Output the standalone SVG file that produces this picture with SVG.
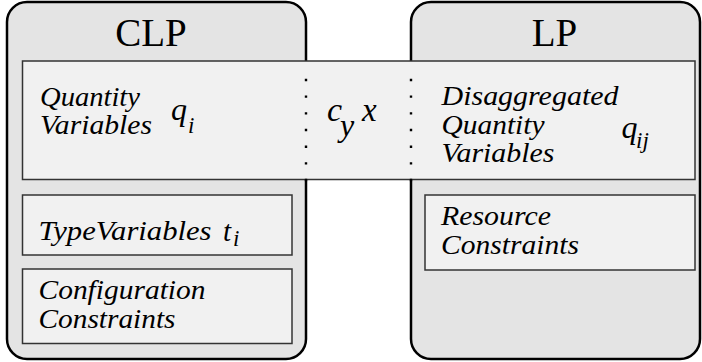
<svg xmlns="http://www.w3.org/2000/svg" width="702" height="362" viewBox="0 0 702 362">
  <style>
    .outer { fill: #e4e4e4; stroke: #000; stroke-width: 2.5; }
    .inner { fill: #f1f1f1; stroke: #333; stroke-width: 1.5; }
    .title { font-family: "Liberation Serif", "Times New Roman", serif; font-size: 39px; fill: #000; text-anchor: middle; }
    .lbl { font-family: "Liberation Serif", "Times New Roman", serif; font-style: italic; font-size: 27px; fill: #000; }
    .math { font-family: "Liberation Serif", "Times New Roman", serif; font-style: italic; fill: #000; }
    .dots { stroke: #000; stroke-width: 2.4; stroke-dasharray: 2.4 14.27; fill: none; }
  </style>

  <!-- Solver containers -->
  <g id="clp">
    <rect class="outer" x="7" y="2" width="299" height="357" rx="20" ry="20"/>
    <text class="title" x="151" y="46">CLP</text>
  </g>
  <g id="lp">
    <rect class="outer" x="411" y="2" width="289" height="357" rx="20" ry="20"/>
    <text class="title" x="554.5" y="46">LP</text>
  </g>

  <!-- Shared variable band spanning both solvers -->
  <g id="shared-variables">
    <rect class="inner" x="22.5" y="61" width="672.5" height="118.5"/>
    <text class="lbl" x="40" y="106" textLength="100" lengthAdjust="spacingAndGlyphs">Quantity</text>
    <text class="lbl" x="40" y="133.5" textLength="112" lengthAdjust="spacingAndGlyphs">Variables</text>
    <text class="math" x="171" y="120" font-size="32">q</text>
    <text class="math" x="188" y="133" font-size="23">i</text>

    <text class="math" x="327" y="121" font-size="34">c</text>
    <text class="math" x="340" y="136" font-size="32">y</text>
    <text class="math" x="362" y="121" font-size="33">x</text>

    <text class="lbl" x="441.5" y="105" textLength="177" lengthAdjust="spacingAndGlyphs">Disaggregated</text>
    <text class="lbl" x="441.5" y="133.5" textLength="103" lengthAdjust="spacingAndGlyphs">Quantity</text>
    <text class="lbl" x="441.5" y="161.5" textLength="113" lengthAdjust="spacingAndGlyphs">Variables</text>
    <text class="math" x="621.5" y="138" font-size="32">q</text>
    <text class="math" x="636" y="148" font-size="23">ij</text>
  </g>

  <!-- Boundary continuation through the shared band -->
  <g id="connectors">
    <line class="dots" x1="306" y1="78.8" x2="306" y2="182"/>
    <line class="dots" x1="411" y1="78.8" x2="411" y2="182"/>
  </g>

  <g id="type-variables">
    <rect class="inner" x="22.5" y="195" width="269.5" height="60"/>
    <text class="lbl" x="38.5" y="239.5" textLength="173" lengthAdjust="spacingAndGlyphs">TypeVariables</text>
    <text class="math" x="223" y="241" font-size="29">t</text>
    <text class="math" x="233" y="246" font-size="23">i</text>
  </g>

  <g id="configuration-constraints">
    <rect class="inner" x="22.5" y="269" width="269.5" height="74.5"/>
    <text class="lbl" x="38.5" y="298.5" textLength="167" lengthAdjust="spacingAndGlyphs">Configuration</text>
    <text class="lbl" x="38.5" y="327.5" textLength="137" lengthAdjust="spacingAndGlyphs">Constraints</text>
  </g>

  <g id="resource-constraints">
    <rect class="inner" x="425" y="195" width="270" height="75"/>
    <text class="lbl" x="441" y="224.5" textLength="110" lengthAdjust="spacingAndGlyphs">Resource</text>
    <text class="lbl" x="441" y="253.5" textLength="138" lengthAdjust="spacingAndGlyphs">Constraints</text>
  </g>
</svg>
